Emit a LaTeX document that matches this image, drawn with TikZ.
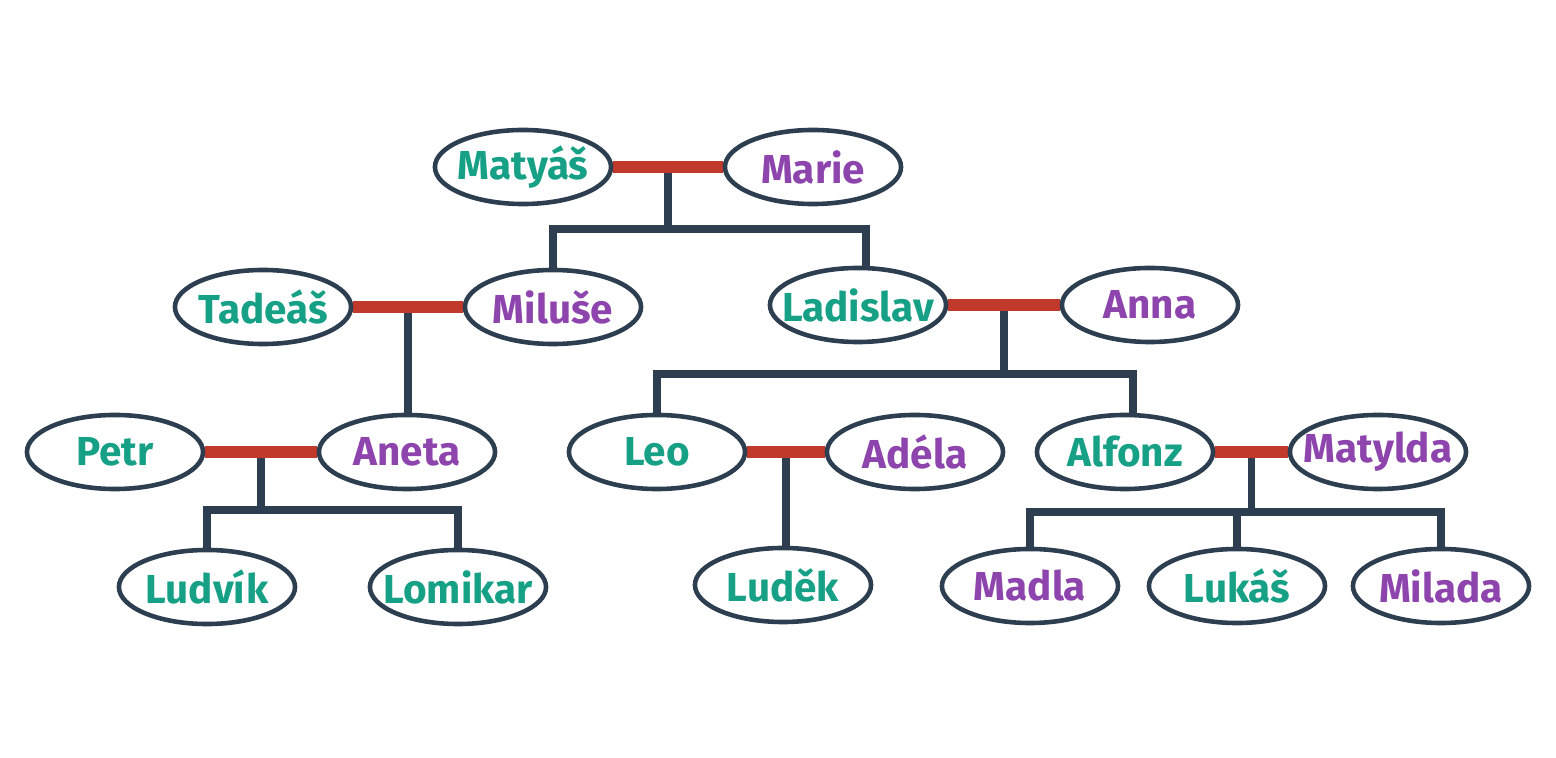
\documentclass[tikz,border=0pt]{standalone}
\usepackage{fontspec}
\setmainfont{Fira Sans}
\usetikzlibrary{
    calc,
    backgrounds,
    shapes.geometric
}
\definecolor{greensea}{HTML}{16A085}
\definecolor{wisteria}{HTML}{8E44AD}
\definecolor{pomegranate}{HTML}{C0392B}
\definecolor{midnight}{HTML}{2C3E50}

\begin{document}
\begin{tikzpicture}[
    x=0.01cm, y=-0.01cm,
    person/.style={ellipse, draw=midnight, line width=1.3pt, fill=white,
        minimum width=1.76cm, minimum height=0.74cm,
        inner xsep=-4pt, inner ysep=0pt,
        font=\fontsize{11.5}{13}\selectfont\bfseries},
    male/.style={person, text=greensea},
    female/.style={person, text=wisteria},
    couple/.style={pomegranate, line width=3.6pt},
    descent/.style={midnight, line width=2pt}
]

    \useasboundingbox (0,0) rectangle (1556,758);

    % First generation
    \node[male]   (matyas)   at (523,167)  {Matyáš};
    \node[female] (marie)    at (813,167)  {Marie};

    % Second generation
    \node[male]   (tadeas)   at (263,307)  {Tadeáš};
    \node[female] (miluse)   at (553,307)  {Miluše};
    \node[male]   (ladislav) at (858,305)  {Ladislav};
    \node[female] (anna)     at (1150,305) {Anna};

    % Third generation
    \node[male]   (petr)     at (115,452)  {Petr};
    \node[female] (aneta)    at (407,452)  {Aneta};
    \node[male]   (leo)      at (657,452)  {Leo};
    \node[female] (adela)    at (915,452)  {Adéla};
    \node[male]   (alfonz)   at (1125,452) {Alfonz};
    \node[female] (matylda)  at (1378,452) {Matylda};

    % Fourth generation
    \node[male]   (ludvik)   at (207,587)  {Ludvík};
    \node[male]   (lomikar)  at (458,587)  {Lomikar};
    \node[male]   (ludek)    at (783,585)  {Luděk};
    \node[female] (madla)    at (1030,586) {Madla};
    \node[male]   (lukas)    at (1237,586) {Lukáš};
    \node[female] (milada)   at (1441,586) {Milada};

    % Couple midpoints
    \coordinate (c1) at ($(matyas.east)!0.5!(marie.west)$);
    \coordinate (c2) at ($(tadeas.east)!0.5!(miluse.west)$);
    \coordinate (c3) at ($(ladislav.east)!0.5!(anna.west)$);
    \coordinate (c4) at ($(petr.east)!0.5!(aneta.west)$);
    \coordinate (c5) at ($(leo.east)!0.5!(adela.west)$);
    \coordinate (c6) at ($(alfonz.east)!0.5!(matylda.west)$);

    \begin{scope}[on background layer]
        % Descent lines
        \draw[descent] (c1) -- ++(0,62) coordinate (j1);
        \draw[descent] (miluse.north) |- (j1) -| ([xshift=0.08cm]ladislav.north);

        \draw[descent] (c2) -- (c2 |- aneta.north);

        \draw[descent] (c3) -- ++(0,69) coordinate (j3);
        \draw[descent] (leo.north) |- (j3) -| ([xshift=0.08cm]alfonz.north);

        \draw[descent] (c4) -- ++(0,58) coordinate (j4);
        \draw[descent] (ludvik.north) |- (j4) -| (lomikar.north);

        \draw[descent] (c5) -- (c5 |- ludek.north);

        \draw[descent] (c6) -- ++(0,60) coordinate (j6);
        \draw[descent] (madla.north) |- (j6) -| (milada.north);
        \draw[descent] (lukas.north) -- (lukas.north |- j6);

        % Couple lines
        \draw[couple] (matyas) -- (marie);
        \draw[couple] (tadeas) -- (miluse);
        \draw[couple] (ladislav) -- (anna);
        \draw[couple] (petr) -- (aneta);
        \draw[couple] (leo) -- (adela);
        \draw[couple] (alfonz) -- (matylda);
    \end{scope}

\end{tikzpicture}
\end{document}
